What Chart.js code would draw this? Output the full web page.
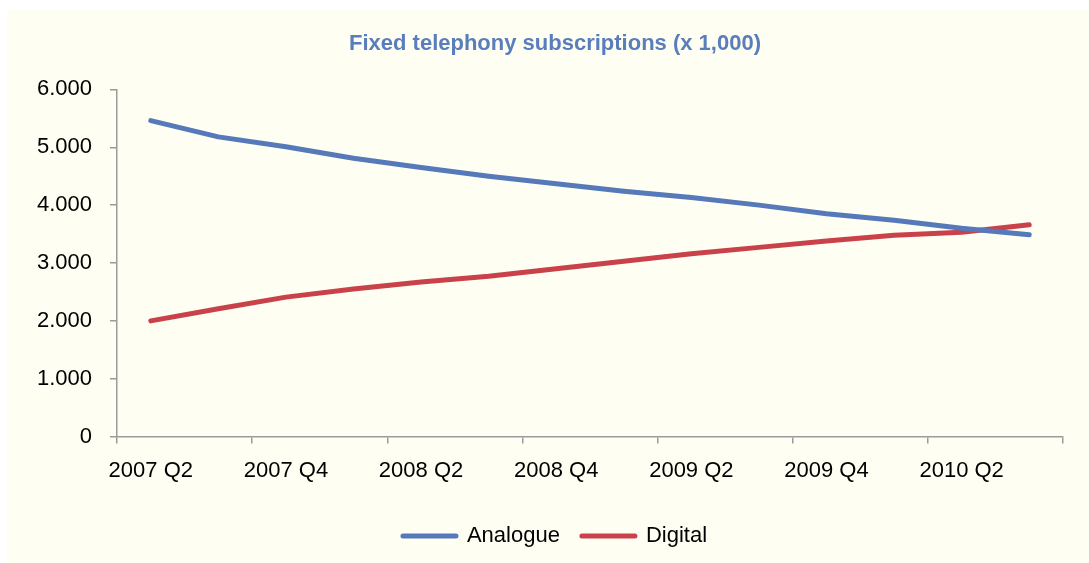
<!DOCTYPE html>
<html>
<head>
<meta charset="utf-8">
<script src="https://cdn.jsdelivr.net/npm/chart.js@4/dist/chart.umd.min.js"></script>
<style>
  html, body { margin: 0; padding: 0; background: #ffffff; }
  #box {
    position: absolute; left: 7px; top: 10px;
    width: 1082px; height: 553px;
    background: #fefef3;
  }
</style>
</head>
<body>
<div id="box"><canvas id="myChart" width="1082" height="553"></canvas></div>
<script>
// quarters on the x axis
var quarters = ['2007 Q2', '2007 Q3', '2007 Q4', '2008 Q1', '2008 Q2', '2008 Q3', '2008 Q4',
                '2009 Q1', '2009 Q2', '2009 Q3', '2009 Q4', '2010 Q1', '2010 Q2', '2010 Q3'];

// subscriptions (x 1,000)
var analogue = [5460, 5180, 5010, 4810, 4650, 4500, 4370, 4240, 4130, 4000, 3850, 3740, 3600, 3490];
var digital  = [2000, 2210, 2410, 2550, 2670, 2770, 2900, 3030, 3160, 3270, 3380, 3480, 3530, 3660];

var yTicks = [0, 1000, 2000, 3000, 4000, 5000, 6000];

var blue = '#5579b9';
var red = '#c9424a';
var axisGray = '#9b9b9b';
var font = "'Liberation Sans', Arial, sans-serif";

// 6000 -> "6.000"
function dotThousands(v) {
    return String(v).replace(/\B(?=(\d{3})+(?!\d))/g, '.');
}

// the y labels stick out left of the padded layout, widen their clip box
var yLabelRoom = {
    id: 'yLabelRoom',
    afterLayout: function (chart) {
        chart.scales.y.left = 0;
    }
};

var ctx = document.getElementById('myChart').getContext('2d');

var data = {
    labels: quarters,
    datasets: [{
        label: 'Analogue',
        data: analogue,
        borderColor: blue,
        backgroundColor: blue,
        borderWidth: 5,
        borderCapStyle: 'round',
        borderJoinStyle: 'round',
        pointRadius: 0,
        tension: 0
    }, {
        label: 'Digital',
        data: digital,
        borderColor: red,
        backgroundColor: red,
        borderWidth: 5,
        borderCapStyle: 'round',
        borderJoinStyle: 'round',
        pointRadius: 0,
        tension: 0
    }]
};

var options = {
    responsive: false,
    animation: false,
    layout: { padding: { left: 40, right: 26, top: 0, bottom: 6 } },
    plugins: {
        title: {
            display: true,
            text: 'Fixed telephony subscriptions (x 1,000)',
            color: '#5a7ebc',
            font: { family: font, size: 22, weight: 'bold' },
            padding: { top: 21, bottom: 32 }
        },
        legend: {
            position: 'bottom',
            labels: {
                color: '#000',
                font: { family: font, size: 22 },
                usePointStyle: true,
                pointStyle: 'line',
                pointStyleWidth: 53,
                padding: 22,
                generateLabels: function (chart) {
                    return chart.data.datasets.map(function (ds, i) {
                        return {
                            text: ds.label,
                            fillStyle: ds.borderColor,
                            strokeStyle: ds.borderColor,
                            lineWidth: 5,
                            lineCap: 'round',
                            pointStyle: 'line',
                            datasetIndex: i,
                            hidden: false
                        };
                    });
                }
            }
        },
        tooltip: { enabled: false }
    },
    scales: {
        x: {
            offset: true,
            afterFit: function (scale) { scale.height += 5; },
            grid: {
                offset: true,
                drawOnChartArea: false,
                drawTicks: true,
                tickLength: 7,
                lineWidth: 1.5,
                // tick mark only every second quarter
                color: function (c) {
                    return (c.index === undefined || c.index % 2 === 0) ? axisGray : 'rgba(0,0,0,0)';
                }
            },
            border: { color: axisGray, width: 1.5 },
            ticks: {
                autoSkip: false,
                maxRotation: 0,
                minRotation: 0,
                padding: 14,
                color: '#000',
                font: { family: font, size: 22 },
                callback: function (val, i) {
                    return i % 2 === 0 ? quarters[i] : '';
                }
            }
        },
        y: {
            min: yTicks[0],
            max: yTicks[yTicks.length - 1],
            afterFit: function (scale) { scale.width = 70; },
            afterBuildTicks: function (scale) {
                scale.ticks = yTicks.map(function (v) { return { value: v }; });
            },
            grid: {
                drawOnChartArea: false,
                drawTicks: true,
                tickLength: 7,
                lineWidth: 1.5,
                color: axisGray
            },
            border: { color: axisGray, width: 1.5 },
            ticks: {
                padding: 18,
                color: '#000',
                font: { family: font, size: 22 },
                callback: function (v) { return dotThousands(v); }
            }
        }
    }
};

var myChart = new Chart(ctx, {
    type: 'line',
    data: data,
    options: options,
    plugins: [yLabelRoom]
});
</script>
</body>
</html>
